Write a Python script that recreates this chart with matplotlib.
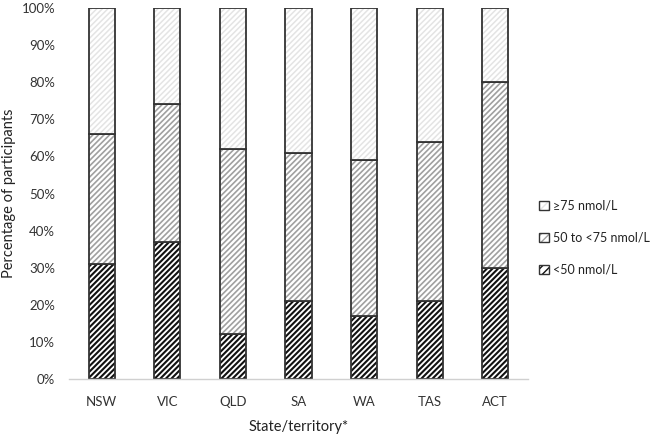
import matplotlib
matplotlib.use("Agg")
import matplotlib.pyplot as plt
from matplotlib.patches import Patch
from matplotlib.legend_handler import HandlerTuple
import numpy as np

plt.rcParams['font.family'] = ['Lato', 'DejaVu Sans']

states = ["NSW", "VIC", "QLD", "SA", "WA", "TAS", "ACT"]
below50 = [31, 37, 12, 21, 17, 21, 30]
mid50_75 = [35, 37, 50, 40, 42, 43, 50]
above75 = [34, 26, 38, 39, 41, 36, 20]
labels = ["\u226575 nmol/L", "50 to <75 nmol/L", "<50 nmol/L"]

fig = plt.figure(figsize=(6.52, 4.34), dpi=100)
ax = fig.add_axes([69/652, 1 - 379/434, 459/652, 371/434])

x = np.arange(len(states))
w = 0.4
b1 = np.array(below50)
b2 = b1 + np.array(mid50_75)

styles = [
    ('//////', '#111111', 1.5),
    ('//////', '#a0a0a0', 1.2),
    ('//////', '#e4e4e4', 1.1),
]
layers = [(below50, 0), (mid50_75, b1), (above75, b2)]
handles = []
for (vals, bottom), (hatch, hc, hlw) in zip(layers, styles):
    with plt.rc_context({'hatch.linewidth': hlw}):
        ax.bar(x, vals, w, bottom=bottom, color='white', edgecolor=hc, hatch=hatch, linewidth=0)
        hp = Patch(facecolor='white', edgecolor=hc, hatch='////', linewidth=0)
    ax.bar(x, vals, w, bottom=bottom, fill=False, edgecolor='#333333', linewidth=1.3)
    handles.append((hp, Patch(fill=False, edgecolor='#333333', linewidth=1.0)))

ax.set_xlim(-0.5, len(states) - 0.5)
ax.set_ylim(0, 100)
ax.set_yticks(range(0, 101, 10))
ax.set_yticklabels([f"{v}%" for v in range(0, 101, 10)], fontsize=9.5, color='#333333')
ax.set_xticks(x)
ax.set_xticklabels(states, fontsize=9.5, color='#333333')
ax.tick_params(axis='y', length=0, pad=10)
ax.tick_params(axis='x', length=0, pad=12)
for s in ['top', 'right', 'left']:
    ax.spines[s].set_visible(False)
ax.spines['bottom'].set_color('#d0d0d0')
ax.spines['bottom'].set_linewidth(1.0)
ax.set_ylabel("Percentage of participants", fontsize=10.5, color='#222222')
ax.yaxis.set_label_coords((16 - 69) / 459, 0.5)
ax.set_xlabel("State/territory*", fontsize=10.5, color='#222222')
ax.xaxis.set_label_coords(0.5, -(420 - 379) / 371)

hl = [handles[2], handles[1], handles[0]]
leg = fig.legend(hl, labels, loc='center left', bbox_to_anchor=(533/652, 1 - 238/434),
                 frameon=False, fontsize=9, handlelength=0.75, handleheight=0.75,
                 labelspacing=1.6, handletextpad=0.35, borderpad=0,
                 handler_map={tuple: HandlerTuple(ndivide=1, pad=0)})
for txt in leg.get_texts():
    txt.set_color('#222222')

fig.savefig("out.png", dpi=100)
